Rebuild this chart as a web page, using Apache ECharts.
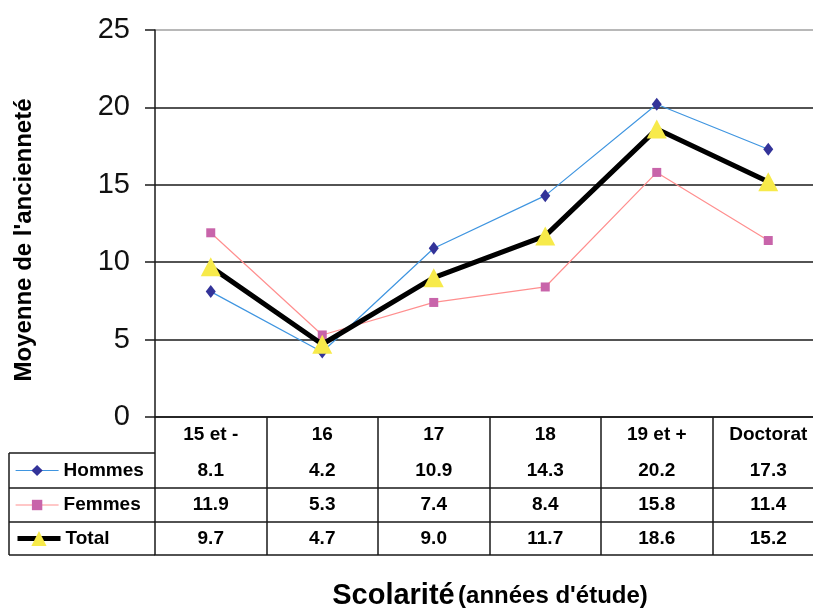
<!DOCTYPE html>
<html>
<head>
<meta charset="utf-8">
<script src="https://cdn.jsdelivr.net/npm/echarts@6/dist/echarts.min.js"></script>
<style>
html,body{margin:0;padding:0;background:#fff;}
#main{width:813px;height:608px;}
</style>
</head>
<body>
<div id="main"></div>
<script>
const categories = ['15 et -', '16', '17', '18', '19 et +', 'Doctorat'];
const hommes = [8.1, 4.2, 10.9, 14.3, 20.2, 17.3];
const femmes = [11.9, 5.3, 7.4, 8.4, 15.8, 11.4];
const total = [9.7, 4.7, 9.0, 11.7, 18.6, 15.2];
const seriesNames = ['Hommes', 'Femmes', 'Total'];
const yAxisTitle = "Moyenne de l'ancienneté";
const xTitleMain = 'Scolarité';
const xTitleSub = "(années d'étude)";

const FONT = '"Liberation Sans", Arial, sans-serif';
const LINE = '#1a1a1a';

const chart = echarts.init(document.getElementById('main'), null, {renderer: 'canvas'});

const gridTop = 30, gridH = 387, gridLeft = 155, gridW = 669;
const rows = [
  [36, 36],
  [71, 35],
  [105, 34],
  [138, 33]
];
const rowValues = [hommes, femmes, total];

function rowAxis(i) {
  const vals = rowValues[i];
  const off = rows[i + 1][0], h = rows[i + 1][1];
  return {
    type: 'category', data: categories, gridIndex: 0, position: 'bottom', offset: off,
    boundaryGap: true,
    axisLine: {show: true, lineStyle: {color: LINE, width: 1.5}},
    axisTick: {show: true, inside: true, length: h, interval: 0, lineStyle: {color: LINE, width: 1.5}},
    axisLabel: {
      show: true, inside: true, interval: 0, margin: h / 2, verticalAlign: 'middle',
      fontFamily: FONT, fontWeight: 'bold', fontSize: 19, color: '#000',
      formatter: (v, idx) => vals[idx].toFixed(1)
    },
    splitLine: {show: false}
  };
}

function legendFor(name, centerY, itemHeight, lineWidth) {
  return {
    data: [name], orient: 'horizontal', left: 15, top: centerY - 11, padding: 0,
    itemWidth: 43, itemHeight: itemHeight, selectedMode: false,
    lineStyle: {width: lineWidth},
    textStyle: {fontFamily: FONT, fontWeight: 'bold', fontSize: 19, color: '#000', lineHeight: 22}
  };
}

const tableLines = [];
[453, 488, 522, 555].forEach(y => {
  tableLines.push({type: 'line', shape: {x1: 9, y1: y, x2: gridLeft, y2: y},
    style: {stroke: LINE, lineWidth: 1.5}});
});
tableLines.push({type: 'line', shape: {x1: 9, y1: 453, x2: 9, y2: 555},
  style: {stroke: LINE, lineWidth: 1.5}});

const option = {
  backgroundColor: '#fff',
  animation: false,
  grid: {left: gridLeft, top: gridTop, width: gridW, height: gridH, containLabel: false, outerBoundsMode: 'none'},
  legend: [
    legendFor('Hommes', 470.5, 14, 1.2),
    legendFor('Femmes', 505, 13, 1.2),
    legendFor('Total', 538.5, 19, 5)
  ],
  xAxis: [
    {
      type: 'category', data: categories, gridIndex: 0, position: 'bottom', offset: 0,
      boundaryGap: true,
      axisLine: {show: true, lineStyle: {color: LINE, width: 1.5}},
      axisTick: {show: true, inside: false, length: 36, interval: 0, lineStyle: {color: LINE, width: 1.5}},
      axisLabel: {show: true, interval: 0, margin: 18, verticalAlign: 'middle',
        fontFamily: FONT, fontWeight: 'bold', fontSize: 19, color: '#000'},
      splitLine: {show: false}
    },
    rowAxis(0), rowAxis(1), rowAxis(2)
  ],
  yAxis: {
    type: 'value', min: 0, max: 25, interval: 5,
    axisLine: {show: true, lineStyle: {color: LINE, width: 1.5}},
    axisTick: {show: true, inside: false, length: 10, lineStyle: {color: LINE, width: 1.5}},
    axisLabel: {margin: 25, fontFamily: FONT, fontSize: 29, color: '#111'},
    splitLine: {show: true, lineStyle: {color: [LINE, LINE, LINE, LINE, LINE, '#a0a0a0'], width: 1.5}}
  },
  series: [
    {
      name: seriesNames[0], type: 'line', data: hommes, xAxisIndex: 0,
      symbol: 'diamond', symbolSize: [10, 13],
      itemStyle: {color: '#333399'},
      lineStyle: {color: '#3f95e0', width: 1.2}, z: 2
    },
    {
      name: seriesNames[1], type: 'line', data: femmes, xAxisIndex: 0,
      symbol: 'rect', symbolSize: 9,
      itemStyle: {color: '#c864aa'},
      lineStyle: {color: '#ff8f8f', width: 1.2}, z: 3
    },
    {
      name: seriesNames[2], type: 'line', data: total, xAxisIndex: 0,
      symbol: 'triangle', symbolSize: [20, 19],
      itemStyle: {color: '#f7ea4a'},
      lineStyle: {color: '#000', width: 5}, z: 4
    }
  ],
  graphic: [
    {
      type: 'text', x: 24, y: 240, rotation: Math.PI / 2,
      style: {text: yAxisTitle, fontFamily: FONT, fontWeight: 'bold', fontSize: 24,
        fill: '#000', align: 'center', verticalAlign: 'middle'}
    },
    {
      type: 'text', x: 490, y: 596,
      style: {
        text: '{a|' + xTitleMain + '} {b|' + xTitleSub + '}',
        align: 'center', verticalAlign: 'middle',
        rich: {
          a: {fontFamily: FONT, fontWeight: 'bold', fontSize: 29, fill: '#000'},
          b: {fontFamily: FONT, fontWeight: 'bold', fontSize: 24, fill: '#000'}
        }
      }
    }
  ].concat(tableLines)
};

chart.setOption(option);
</script>
</body>
</html>
